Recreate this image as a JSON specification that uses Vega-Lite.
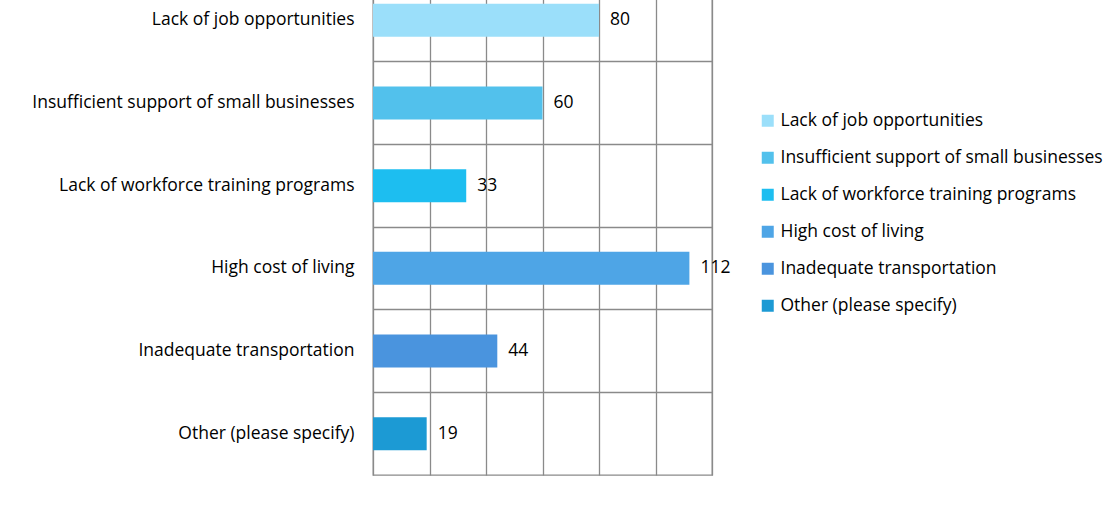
{
  "$schema": "https://vega.github.io/schema/vega-lite/v6.json",
  "autosize": "none",
  "width": 339,
  "height": 496,
  "padding": {"left": 373, "top": -21, "right": 408, "bottom": 31},
  "background": "white",
  "data": {
    "values": [
      {"category": "Lack of job opportunities", "count": 80},
      {"category": "Insufficient support of small businesses", "count": 60},
      {"category": "Lack of workforce training programs", "count": 33},
      {"category": "High cost of living", "count": 112},
      {"category": "Inadequate transportation", "count": 44},
      {"category": "Other (please specify)", "count": 19}
    ]
  },
  "encoding": {
    "y": {
      "field": "category",
      "type": "nominal",
      "sort": null,
      "scale": {"padding": 0},
      "axis": {
        "title": null,
        "ticks": false,
        "domain": false,
        "grid": true,
        "bandPosition": 0,
        "gridColor": "#8a8a8a",
        "gridWidth": 1.3,
        "labelPadding": 19,
        "labelFontSize": 17.5,
        "labelFont": "Open Sans",
        "labelColor": "#000000",
        "labelLimit": 400
      }
    },
    "x": {
      "field": "count",
      "type": "quantitative",
      "scale": {"domain": [0, 120]},
      "axis": {
        "title": null,
        "labels": false,
        "ticks": false,
        "domain": false,
        "grid": true,
        "values": [0, 20, 40, 60, 80, 100, 120],
        "gridColor": "#8a8a8a",
        "gridWidth": 1.3
      }
    }
  },
  "layer": [
    {
      "mark": {"type": "bar", "size": 33},
      "encoding": {
        "color": {
          "field": "category",
          "type": "nominal",
          "scale": {
            "domain": ["Lack of job opportunities", "Insufficient support of small businesses", "Lack of workforce training programs", "High cost of living", "Inadequate transportation", "Other (please specify)"],
            "range": ["#9BDFFA", "#52C1EC", "#1DBEF0", "#4EA5E6", "#4A94DE", "#1C9AD4"]
          },
          "legend": {
            "title": null,
            "orient": "none",
            "legendX": 386,
            "legendY": 133,
            "symbolType": "square",
            "symbolSize": 144,
            "symbolStrokeWidth": 0,
            "labelFontSize": 17.5,
            "labelFont": "Open Sans",
            "labelColor": "#000000",
            "labelOffset": 4,
            "rowPadding": 18,
            "labelLimit": 400
          }
        }
      }
    },
    {
      "mark": {"type": "text", "align": "left", "baseline": "middle", "dx": 11, "fontSize": 17.5, "font": "Open Sans", "color": "#000000"},
      "encoding": {
        "text": {"field": "count", "type": "quantitative"}
      }
    }
  ],
  "config": {
    "view": {"stroke": "#8a8a8a", "strokeWidth": 1.3}
  }
}
